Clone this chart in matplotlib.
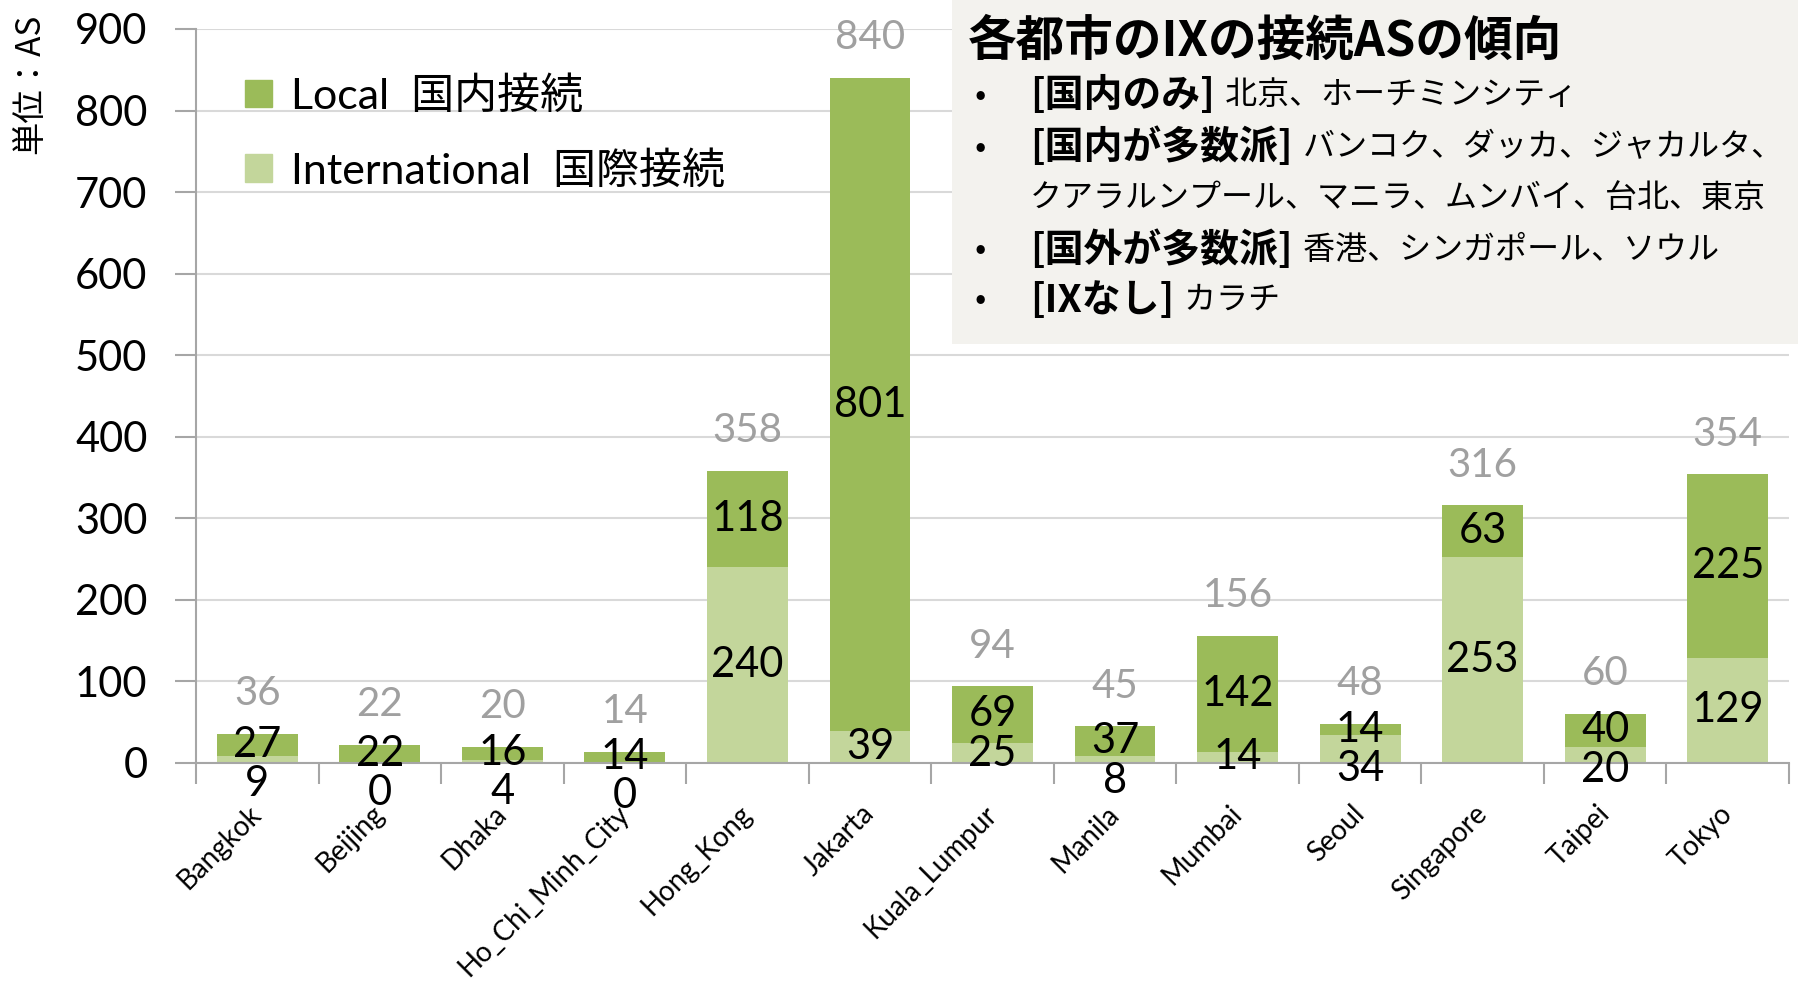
import matplotlib
matplotlib.use('Agg')
import matplotlib.pyplot as plt
from matplotlib.patches import Rectangle, Patch
import matplotlib.transforms as mtrans
import numpy as np

# ---------------- data ----------------
cities = ["Bangkok", "Beijing", "Dhaka", "Ho_Chi_Minh_City", "Hong_Kong", "Jakarta",
          "Kuala_Lumpur", "Manila", "Mumbai", "Seoul", "Singapore", "Taipei", "Tokyo"]
international = [9, 0, 4, 0, 240, 39, 25, 8, 14, 34, 253, 20, 129]
local = [27, 22, 16, 14, 118, 801, 69, 37, 142, 14, 63, 40, 225]
yticks = [0, 100, 200, 300, 400, 500, 600, 700, 800, 900]
legend_labels = ["Local  国内接続", "International  国際接続"]
ylabel = "単位：AS"
box_title = "各都市のIXの接続ASの傾向"
box_lines = [
    ("•", "[国内のみ]", " 北京、ホーチミンシティ"),
    ("•", "[国内が多数派]", " バンコク、ダッカ、ジャカルタ、"),
    ("", "", "クアラルンプール、マニラ、ムンバイ、台北、東京"),
    ("•", "[国外が多数派]", " 香港、シンガポール、ソウル"),
    ("•", "[IXなし]", " カラチ"),
]

# ---------------- style ----------------
DARK = "#9BBB59"
LIGHT = "#C3D69B"
GRID = "#D9D9D9"
AXC = "#A6A6A6"
TOTC = "#A0A0A0"
LATIN = ["Lato", "Noto Sans CJK JP", "DejaVu Sans"]
JP = ["Noto Sans CJK JP", "DejaVu Sans"]

W, H = 1798, 986
fig = plt.figure(figsize=(W / 100, H / 100), dpi=100)
ax = fig.add_axes([196 / W, 1 - 763 / H, (1789 - 196) / W, (763 - 29) / H])

x = np.arange(len(cities))
intl = np.array(international)
loc = np.array(local)
total = intl + loc

ax.bar(x, intl, width=0.66, color=LIGHT, zorder=2)
ax.bar(x, loc, bottom=intl, width=0.66, color=DARK, zorder=2)

ax.set_xlim(-0.5, len(cities) - 0.5)
ax.set_ylim(0, 900)
ax.set_yticks(yticks)
ax.yaxis.grid(True, color=GRID, lw=1.5)
ax.set_axisbelow(True)
for s in ["top", "right"]:
    ax.spines[s].set_visible(False)
for s in ["left", "bottom"]:
    ax.spines[s].set_color(AXC)
    ax.spines[s].set_linewidth(1.5)
ax.tick_params(axis="y", length=15, width=1.5, color=AXC, labelsize=30, pad=20)
for lab in ax.get_yticklabels():
    lab.set_family(LATIN)

ax.set_xticks(x)
ax.set_xticklabels(cities, rotation=45, ha="right", rotation_mode="anchor",
                   fontsize=20, family=LATIN)
ax.tick_params(axis="x", which="major", length=0, pad=27)
shift = mtrans.ScaledTranslation(-9 / 100, 0, fig.dpi_scale_trans)
for lab in ax.get_xticklabels():
    lab.set_transform(lab.get_transform() + shift)
ax.set_xticks(np.append(x - 0.5, x[-1] + 0.5), minor=True)
ax.tick_params(axis="x", which="minor", length=15, width=1.5, color=AXC)

# data labels
SEP = 48
for xi, iv, lv, tv in zip(x, intl, loc, total):
    lc = iv + lv / 2
    ic = min(iv / 2, lc - SEP)
    ax.text(xi, lc, str(lv), ha="center", va="center", fontsize=30,
            family=LATIN, zorder=4, clip_on=False)
    ax.text(xi, ic, str(iv), ha="center", va="center", fontsize=30,
            family=LATIN, zorder=4, clip_on=False)
    ax.annotate(str(tv), (xi, tv), xytext=(0, 29), textcoords="offset points",
                ha="center", va="center", fontsize=29, color=TOTC,
                family=LATIN, zorder=4, annotation_clip=False)

# legend
leg = ax.legend(handles=[Patch(color=DARK), Patch(color=LIGHT)], labels=legend_labels,
                loc="upper left", bbox_to_anchor=(245 / W, 1 - 76 / H),
                bbox_transform=fig.transFigure, frameon=False,
                prop={"family": LATIN, "size": 31}, handlelength=0.62,
                handleheight=0.62, handletextpad=0.45, labelspacing=0.82,
                borderpad=0, borderaxespad=0)

# y label
fig.text(30 / W, 1 - 84 / H, ylabel, rotation=90, ha="center", va="center",
         fontsize=24, family=JP)

# text box
fig.add_artist(Rectangle((952 / W, 1 - 344 / H), 1 - 952 / W, 344 / H,
                         transform=fig.transFigure, facecolor="#F3F2EE",
                         edgecolor="none", zorder=5))
fig.text(968 / W, 1 - 41 / H, box_title, ha="left", va="center", fontsize=35,
         fontweight="bold", family=JP, zorder=6)

renderer = fig.canvas.get_renderer()
line_y = [95, 147, 198, 250, 300]
for (bul, bold, rest), yy in zip(box_lines, line_y):
    yf = 1 - yy / H
    if bul:
        fig.text(974 / W, yf, bul, ha="left", va="center", fontsize=24,
                 family=JP, zorder=6)
    xpos = 1030 / W
    if bold:
        t = fig.text(xpos, yf, bold, ha="left", va="center", fontsize=28,
                     fontweight="bold", family=JP, zorder=6)
        bb = t.get_window_extent(renderer=renderer)
        xpos = (bb.x1 + 3) / W
    fig.text(xpos, yf, rest, ha="left", va="center", fontsize=23,
             family=JP, zorder=6)

fig.savefig("out.png", dpi=100)
